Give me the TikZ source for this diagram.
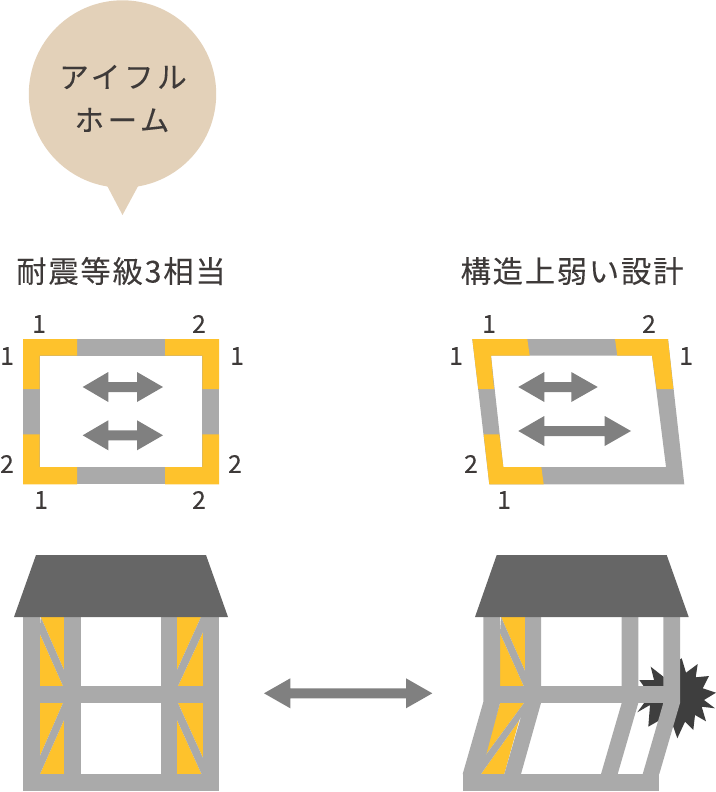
\documentclass[tikz,border=0pt]{standalone}
\usepackage{fontspec}
\newfontfamily\jpfont[LetterSpace=6,FakeBold=0.15]{Noto Sans CJK JP}
\newfontfamily\jpwide[LetterSpace=12,FakeBold=0.15]{Noto Sans CJK JP}
\newfontfamily\numfont[FakeBold=0.15]{Noto Sans CJK JP}
\definecolor{amber}{HTML}{FEC22C}
\definecolor{timber}{HTML}{AAAAAA}
\definecolor{arrowgrey}{HTML}{808080}
\definecolor{roofgrey}{HTML}{666666}
\definecolor{burst}{HTML}{3E3E3E}
\definecolor{inktext}{HTML}{3E3A39}
\definecolor{bubble}{HTML}{E3D1B9}
\tikzset{
  yel/.style={fill=amber},
  gry/.style={fill=timber},
  roofshape/.style={fill=roofgrey},
  dbl/.style={fill=arrowgrey},
  num/.style={font=\numfont\fontsize{18.5pt}{21pt}\selectfont,text=inktext,inner sep=0pt},
  title/.style={font=\jpfont\fontsize{22.7pt}{26pt}\selectfont,text=inktext,inner sep=0pt},
  bubbletext/.style={font=\jpwide\fontsize{22.2pt}{26pt}\selectfont,text=inktext,inner sep=0pt},
}
% double arrow: left tip, left base, right base, right tip, centre y
\newcommand{\dblarrow}[5]{%
  \fill[dbl] (#1,#5) -- (#2,#5-15) -- (#2,#5-5) -- (#3,#5-5) -- (#3,#5-15) -- (#4,#5)
    -- (#3,#5+15) -- (#3,#5+5) -- (#2,#5+5) -- (#2,#5+15) -- cycle;}
\begin{document}
\begin{tikzpicture}[x=0.75pt,y=-0.75pt]
\useasboundingbox (0,0) rectangle (716,792);
% speech bubble
\fill[bubble] (122.5,94) circle[radius=93.7];
\fill[bubble] (106.7,185) -- (122.5,215) -- (138.7,185) -- cycle;
\node[bubbletext] (bubbleA) at (123,77) {アイフル};
\node[bubbletext] (bubbleB) at (122,120) {ホーム};
% titles
\node[title] (titleL) at (121,271) {耐震等級3相当};
\node[title] (titleR) at (572,271) {構造上弱い設計};
% plan left
\fill[gry] (23,339) rectangle (219,484.3);
\fill[white] (39.7,355.7) rectangle (202.3,467);
\fill[yel] (23,339) -- (77,339) -- (77,355.7) -- (39.7,355.7) -- (39.7,389) -- (23,389) -- cycle;
\fill[yel] (219,339) -- (165,339) -- (165,355.7) -- (202.3,355.7) -- (202.3,389) -- (219,389) -- cycle;
\fill[yel] (23,484.3) -- (77,484.3) -- (77,467) -- (39.7,467) -- (39.7,434.3) -- (23,434.3) -- cycle;
\fill[yel] (219,484.3) -- (165,484.3) -- (165,467) -- (202.3,467) -- (202.3,434.3) -- (219,434.3) -- cycle;
\dblarrow{82.7}{108.3}{137}{163}{387}
\dblarrow{82.7}{108.3}{137}{163}{435.3}
\node[num] (a1) at (39,324) {1};
\node[num] (a2) at (199,324) {2};
\node[num] (a3) at (7,356) {1};
\node[num] (a4) at (237,356) {1};
\node[num] (a5) at (7,464) {2};
\node[num] (a6) at (235,464) {2};
\node[num] (a7) at (41,500) {1};
\node[num] (a8) at (199,500) {2};
% plan right
\fill[gry,even odd rule] (472.3,339) -- (668,339) -- (684.3,484.3) -- (489.3,484.3) -- cycle
  (491,355.7) -- (652,355.7) -- (666,467) -- (503.3,467) -- cycle;
\fill[yel] (472.3,339) -- (527.3,339) -- (529.7,355.7) -- (491,355.7) -- (494,389) -- (478.3,389) -- cycle;
\fill[yel] (615,339) -- (668,339) -- (673.3,389) -- (656.7,389) -- (652,355.7) -- (617.3,355.7) -- cycle;
\fill[yel] (483.7,434.3) -- (499.3,434.3) -- (503.3,467) -- (541.3,467) -- (543.7,484.3) -- (489.3,484.3) -- cycle;
\dblarrow{518.3}{544.3}{571.3}{597.7}{387}
\dblarrow{518.3}{544.3}{604.7}{631}{431}
\node[num] (b1) at (489,324) {1};
\node[num] (b2) at (649,324) {2};
\node[num] (b3) at (456,356) {1};
\node[num] (b4) at (686,356) {1};
\node[num] (b5) at (471,464) {2};
\node[num] (b6) at (504,500) {1};
% left house
\fill[yel] (40.7,617) -- (64,617) -- (64,670) -- cycle;
\fill[yel] (39.5,633) -- (63,686) -- (39.5,686) -- cycle;
\fill[yel] (39.5,703) -- (63,703) -- (39.5,757) -- cycle;
\fill[yel] (64,720) -- (64,774) -- (40,774) -- cycle;
\fill[yel] (177,617) -- (201,617) -- (177,670) -- cycle;
\fill[yel] (203,632) -- (203,686) -- (178,686) -- cycle;
\fill[yel] (178,703) -- (203,703) -- (203,758) -- cycle;
\fill[yel] (177,720) -- (201.5,774) -- (177,774) -- cycle;
\fill[gry] (40.7,617) -- (64,670) -- (64,686) -- (63,686) -- (39.5,633) -- cycle;
\fill[gry] (39.5,757) -- (63,703) -- (64,703) -- (64,720) -- (40,774) -- (39.5,774) -- cycle;
\fill[gry] (201,617) -- (203,617) -- (203,632) -- (178,686) -- (177,686) -- (177,670) -- cycle;
\fill[gry] (178,703) -- (203,758) -- (203,774) -- (201.5,774) -- (177,720) -- (177,703) -- cycle;
\fill[gry] (23,617) rectangle (39.7,774);
\fill[gry] (64,617) rectangle (80.5,774);
\fill[gry] (161,617) rectangle (177,774);
\fill[gry] (203,617) rectangle (219,774);
\fill[gry] (23,686.3) rectangle (219,703);
\fill[gry] (23,774) rectangle (219,791);
\fill[roofshape] (36,555) -- (206,555) -- (228,617) -- (14,617) -- cycle;
% double arrow in the middle
\dblarrow{264}{290.3}{406}{432.3}{693.3}
% right house: burst behind the frame
\fill[burst] (681.7,658.3) -- (686,672.7) -- (697.7,664) -- (695.7,677.3) -- (709,676) -- (702.7,688.3)
  -- (716,692.7) -- (704,700) -- (715,708.3) -- (701.7,706.7) -- (706,721.3) -- (695,715) -- (693.3,730)
  -- (685,721.7) -- (677.3,738.3) -- (673.3,726.7) -- (660,720) -- (648.3,726.7) -- (650,705) -- (637.3,712.3)
  -- (650,695) -- (639.3,680) -- (654,680) -- (650.7,666.7) -- (665,678) -- (670,665) -- cycle;
\fill[yel] (501,617) -- (525,617) -- (525,671) -- cycle;
\fill[yel] (500,633) -- (523.7,686) -- (500,686) -- cycle;
\fill[yel] (500,703) -- (524,703) -- (484.3,757) -- cycle;
\fill[yel] (519.3,720) -- (504.3,774) -- (481,774) -- cycle;
\fill[gry] (501,617) -- (525,671) -- (525,686) -- (523.7,686) -- (500,633) -- cycle;
\fill[gry] (484.3,757) -- (524,703) -- (530,703) -- (519.3,720) -- (481,774) -- (475,774) -- cycle;
\fill[gry] (483.3,617) -- (500,617) -- (500,703) -- (481,774) -- (462.7,774) -- (483.3,702) -- cycle;
\fill[gry] (525,617) -- (541,617) -- (541,703) -- (521,774) -- (504.3,774) -- (525,703) -- cycle;
\fill[gry] (621.7,617) -- (638.3,617) -- (638.3,703) -- (617.7,774) -- (601,774) -- (621.7,703) -- cycle;
\fill[gry] (663.3,617) -- (680,617) -- (680,703) -- (659.3,774) -- (642.7,774) -- (663.3,703) -- cycle;
\fill[gry] (500,686.3) rectangle (666,703);
\fill[gry] (462.7,774) rectangle (659.3,791);
\fill[roofshape] (496.7,555) -- (666.7,555) -- (688.7,617) -- (475,617) -- cycle;
\end{tikzpicture}
\end{document}
